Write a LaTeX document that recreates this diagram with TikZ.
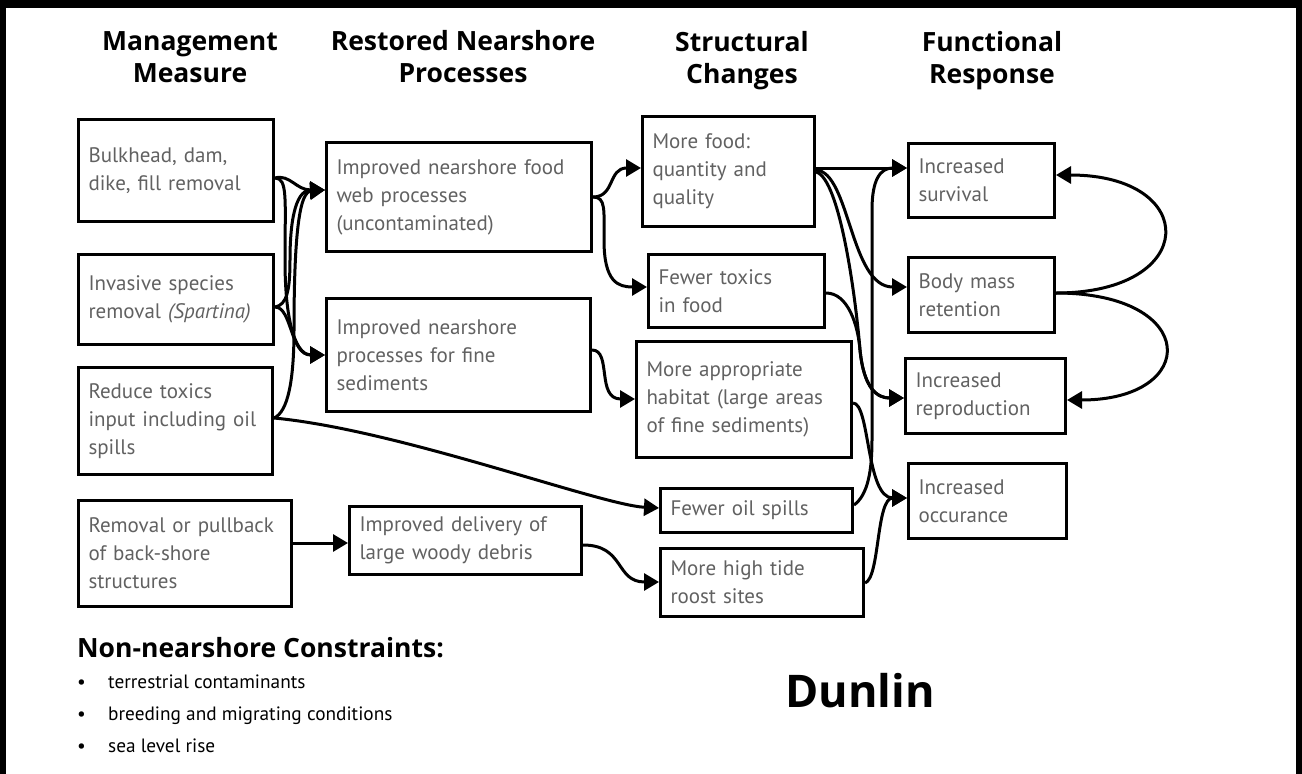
\documentclass[tikz,border=0pt]{standalone}
\usepackage{fontspec}
\setmainfont{PT Sans}
\newfontfamily\hdfont{Open Sans}
\usetikzlibrary{arrows.meta,calc}
\tikzset{
  box/.style={draw, line width=3pt, anchor=north west, align=left, inner xsep=10pt, inner ysep=0pt,
    font=\fontsize{21}{28}\selectfont, text=black!62},
  conn/.style={line width=3pt, -{Triangle[length=15pt,width=17pt]}},
  hdr/.style={anchor=north, align=center, inner sep=0pt, font=\hdfont\bfseries\fontsize{26.5}{32}\selectfont},
  bul/.style={anchor=base west, inner sep=0pt, font=\fontsize{19.3}{24}\selectfont},
}
\begin{document}
\begin{tikzpicture}[x=1pt,y=-1pt]
\useasboundingbox (0,0) rectangle (1302,774);
% frame
\fill (0,0) rectangle (1302,8);
\fill (0,0) rectangle (6,774);
\fill (1296,0) rectangle (1302,774);

% headers
\node[hdr] (h1) at (190,31) {Management\\Measure};
\node[hdr] (h2) at (463,30) {Restored Nearshore\\Processes};
\node[hdr] (h3) at (742,31) {Structural\\Changes};
\node[hdr] (h4) at (992,31) {Functional\\Response};

% column 1
\node[box, text width=175pt, minimum height=102pt] (bulk) at (77,118) {Bulkhead, dam,\\dike, fill removal};
\node[box, text width=175pt, minimum height=90pt] (inv) at (77,253) {Invasive species\\removal \textit{(Spartina)}};
\node[box, text width=174pt, minimum height=107pt] (tox) at (77,366) {Reduce toxics\\input including oil\\spills};
\node[box, text width=193pt, minimum height=106pt] (rem) at (77,499) {Removal or pullback\\of back-shore\\structures};
% column 2
\node[box, text width=245pt, minimum height=109pt] (web) at (325,141) {Improved nearshore food\\web processes\\(uncontaminated)};
\node[box, text width=244pt, minimum height=113pt] (sed) at (325,297) {Improved nearshore\\processes for fine\\sediments};
\node[box, text width=212pt, minimum height=68pt] (wood) at (348,505) {Improved delivery of\\large woody debris};
% column 3
\node[box, text width=152pt, minimum height=110pt] (food) at (641,115) {More food:\\quantity and\\quality};
\node[box, text width=156pt, minimum height=73pt] (ftox) at (647,253) {Fewer toxics\\in food};
\node[box, text width=195pt, minimum height=116pt] (hab) at (635,340) {More appropriate\\habitat (large areas\\of fine sediments)};
\node[box, text width=172pt, minimum height=44pt] (oil) at (659,487) {Fewer oil spills};
\node[box, text width=183pt, minimum height=68pt] (roost) at (659,547) {More high tide\\roost sites};
% column 4
\node[box, text width=126pt, minimum height=74pt] (surv) at (907,142) {Increased\\survival};
\node[box, text width=126pt, minimum height=75pt] (mass) at (907,256) {Body mass\\retention};
\node[box, text width=140pt, minimum height=75pt] (repr) at (904,357) {Increased\\reproduction};
\node[box, text width=138pt, minimum height=75pt] (occ) at (907,462) {Increased\\occurance};

% connectors: column 1 -> column 2
\draw[conn] ($(bulk.north east)+(0,60)$) .. controls (290,174) and (296,190) .. ($(web.north west)+(0,49)$);
\draw[conn] ($(bulk.north east)+(0,60)$) .. controls (288,178) and (285,200) .. (285,260) .. controls (285,330) and (298,355) .. ($(sed.north west)+(0,58)$);
\draw[conn] ($(inv.north east)+(0,54)$) .. controls (287,305) and (290,290) .. (290,260) .. controls (290,212) and (298,190) .. ($(web.north west)+(0,49)$);
\draw[conn] ($(inv.north east)+(0,54)$) .. controls (292,307) and (290,355) .. ($(sed.north west)+(0,58)$);
\draw[conn] ($(tox.north east)+(0,52)$) .. controls (288,412) and (294,380) .. (294,330) .. controls (294,230) and (300,192) .. ($(web.north west)+(0,49)$);
\draw[conn] ($(tox.north east)+(0,52)$) .. controls (400,430) and (600,505) .. ($(oil.north west)+(0,21)$);
\draw[conn] ($(rem.north east)+(0,44)$) -- ($(wood.north west)+(0,38)$);

% column 2 -> column 3
\draw[conn] ($(web.north east)+(0,56)$) .. controls (615,197) and (608,168) .. ($(food.north west)+(0,53)$);
\draw[conn] ($(web.north east)+(0,56)$) .. controls (606,197) and (604,210) .. (604,240) .. controls (604,282) and (618,287) .. ($(ftox.north west)+(0,34)$);
\draw[conn] ($(sed.north east)+(0,53)$) .. controls (612,350) and (596,399) .. ($(hab.north west)+(0,59)$);
\draw[conn] ($(wood.north east)+(0,40)$) .. controls (625,545) and (615,582) .. ($(roost.north west)+(0,35)$);

% column 3 -> column 4
\draw[conn] ($(food.north east)+(0,53)$) -- ($(surv.north west)+(0,26)$);
\draw[conn] ($(food.north east)+(0,55)$) .. controls (850,172) and (850,287) .. ($(mass.north west)+(0,31)$);
\draw[conn] ($(food.north east)+(0,57)$) .. controls (840,178) and (856,300) .. (860,350) .. controls (864,390) and (878,398) .. ($(repr.north west)+(0,41)$);
\draw[conn] ($(ftox.north east)+(0,40)$) .. controls (848,293) and (858,325) .. (860,350) .. controls (864,390) and (878,398) .. ($(repr.north west)+(0,41)$);
\draw[conn] ($(hab.north east)+(0,63)$) .. controls (870,403) and (866,498) .. ($(occ.north west)+(0,36)$);
\draw[conn] ($(oil.north east)+(0,18)$) .. controls (868,495) and (872,470) .. (872,440) -- (872,210) .. controls (872,180) and (880,168) .. ($(surv.north west)+(0,26)$);
\draw[conn] ($(roost.north east)+(0,36)$) .. controls (880,578) and (876,498) .. ($(occ.north west)+(0,36)$);

% feedback loops
\draw[conn] ($(mass.north east)+(0,37)$) .. controls (1200,293) and (1200,175) .. ($(surv.north east)+(0,33)$);
\draw[conn] ($(mass.north east)+(0,37)$) .. controls (1200,293) and (1200,400) .. ($(repr.north east)+(0,43)$);

% bottom text
\node[anchor=base west, inner sep=0pt, font=\hdfont\bfseries\fontsize{26.5}{32}\selectfont] (nc) at (77,657) {Non-nearshore Constraints:};
\node[bul] (b1) at (77,688) {\makebox[31pt][l]{\textbullet}terrestrial contaminants};
\node[bul] (b2) at (77,720) {\makebox[31pt][l]{\textbullet}breeding and migrating conditions};
\node[bul] (b3) at (77,752) {\makebox[31pt][l]{\textbullet}sea level rise};
\node[anchor=base, inner sep=0pt, font=\hdfont\bfseries\fontsize{45}{50}\selectfont] (dun) at (860,707) {Dunlin};
\end{tikzpicture}
\end{document}
